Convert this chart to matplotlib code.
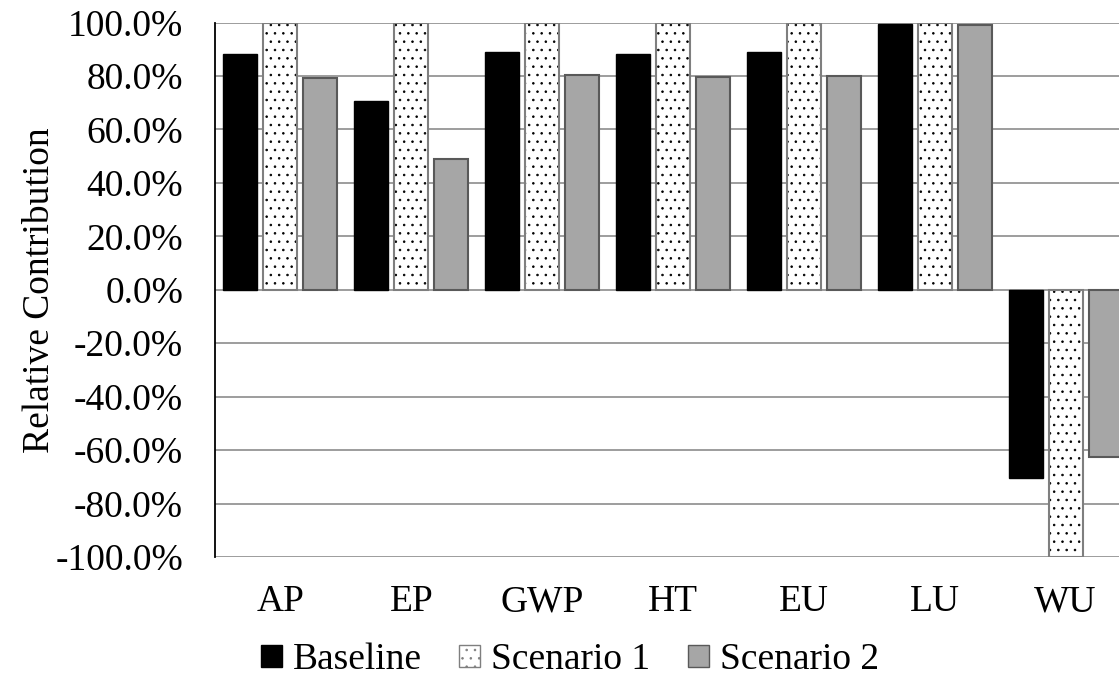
import numpy as np
import matplotlib
matplotlib.use("Agg")
import matplotlib.pyplot as plt
import matplotlib.patches as mpatches
from matplotlib.ticker import FuncFormatter

# data (percent)
categories = ["AP", "EP", "GWP", "HT", "EU", "LU", "WU"]
baseline = [88.2, 70.6, 89.1, 88.1, 88.8, 99.4, -70.6]
scenario_1 = [100.0, 100.0, 100.0, 100.0, 100.0, 100.0, -100.0]
scenario_2 = [79.1, 48.9, 80.2, 79.5, 80.1, 99.1, -62.6]
series_names = ["Baseline", "Scenario 1", "Scenario 2"]

plt.rcParams["font.family"] = ["Liberation Serif", "DejaVu Serif"]
plt.rcParams["hatch.linewidth"] = 0.6

W, H = 1119, 678
fig = plt.figure(figsize=(W / 100, H / 100), dpi=100)
# plot area runs past the right edge of the picture (cropped in the reference)
left, right, top, bottom = 215, 1131, 22.5, 557
ax = fig.add_axes([left / W, 1 - bottom / H, (right - left) / W, (bottom - top) / H])

x = np.arange(len(categories))
width = 0.26
step = 0.306

ax.bar(x - step, baseline, width, color="black", edgecolor="black", linewidth=1, zorder=3)
# dotted bars: hatch drawn in black, border in gray
ax.bar(x, scenario_1, width, color="white", edgecolor="black", hatch="..", linewidth=0, zorder=3)
ax.bar(x, scenario_1, width, fill=False, edgecolor="#7f7f7f", linewidth=1.5, zorder=4)
ax.bar(x + step, scenario_2, width, color="#a6a6a6", edgecolor="#595959", linewidth=1.5, zorder=3)

ax.set_xlim(-0.5, len(categories) - 0.5)
ax.set_ylim(-100, 100)
ax.set_yticks(np.arange(-100, 101, 20))
ax.yaxis.set_major_formatter(FuncFormatter(lambda v, p: f"{v:.1f}%"))
ax.set_xticks(x)
ax.set_xticklabels(categories)
ax.yaxis.grid(True, color="#8c8c8c", linewidth=1.2, zorder=0)
ax.set_axisbelow(True)

for s in ["top", "right", "bottom"]:
    ax.spines[s].set_visible(False)
ax.spines["left"].set_color("black")
ax.spines["left"].set_linewidth(1.3)

ax.tick_params(axis="y", length=0, pad=23, labelsize=27)
ax.tick_params(axis="x", length=0, pad=20, labelsize=27)

ax.set_ylabel("Relative Contribution", fontsize=27)
ax.yaxis.set_label_coords((57 - left) / (right - left), 0.5)

handles = [
    mpatches.Patch(facecolor="black", edgecolor="black"),
    mpatches.Patch(facecolor="white", edgecolor="#7f7f7f", hatch="..", linewidth=1),
    mpatches.Patch(facecolor="#a6a6a6", edgecolor="#595959", linewidth=1),
]
fig.legend(handles, series_names, loc="center", bbox_to_anchor=(570 / W, 1 - 660 / H),
           ncol=3, frameon=False, fontsize=27, handlelength=0.55, handleheight=0.55,
           handletextpad=0.3, columnspacing=1.0, borderpad=0)

fig.savefig("out.png", dpi=100)
